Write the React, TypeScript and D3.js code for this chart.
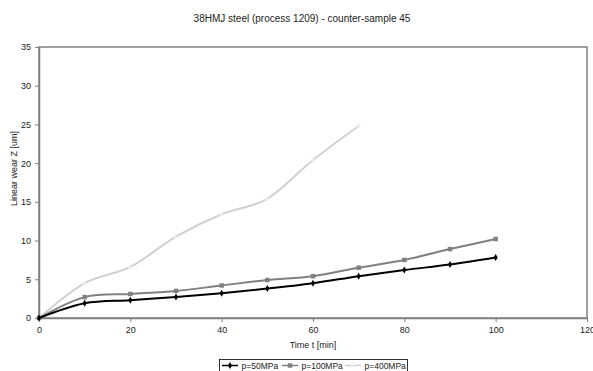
import React, { useEffect, useRef } from "react";
import * as d3 from "d3";

const times = [0, 10, 20, 30, 40, 50, 60, 70, 80, 90, 100];
const wear50 = [0, 1.9, 2.3, 2.7, 3.2, 3.8, 4.5, 5.4, 6.2, 6.9, 7.8];
const wear100 = [0, 2.7, 3.1, 3.5, 4.2, 4.9, 5.4, 6.5, 7.5, 8.9, 10.2];
const wear400 = [0, 4.5, 6.6, 10.5, 13.4, 15.4, 20.4, 24.8];
const xTicks = [0, 20, 40, 60, 80, 100, 120];
const yTicks = [0, 5, 10, 15, 20, 25, 30, 35];
const seriesNames = ["p=50MPa", "p=100MPa", "p=400MPa"];

const FONT = "'Liberation Sans',Arial,sans-serif";

export default function App() {
  const svgRef = useRef<SVGSVGElement>(null);

  useEffect(() => {
    const width = 593;
    const height = 371;
    const marginLeft = 39;
    const marginRight = 6;
    const marginTop = 47;
    const bottom = 318;

    const svg = d3.select(svgRef.current);
    svg.selectAll("*").remove();
    svg
      .attr("width", width)
      .attr("height", height)
      .attr("viewBox", [0, 0, width, height])
      .attr("style", `position:absolute;left:0;top:0;font-family:${FONT};`);

    const x = d3.scaleLinear().domain([0, 120]).range([marginLeft, width - marginRight]);
    const y = d3.scaleLinear().domain([0, 35]).range([bottom, marginTop]);

    // title
    svg
      .append("text")
      .attr("x", 302)
      .attr("y", 22)
      .attr("text-anchor", "middle")
      .attr("font-size", 10)
      .attr("fill", "#222")
      .text("38HMJ steel (process 1209) - counter-sample 45");

    // plot frame
    svg
      .append("rect")
      .attr("x", x(0))
      .attr("y", y(35))
      .attr("width", x(120) - x(0))
      .attr("height", y(0) - y(35))
      .attr("fill", "white")
      .attr("stroke", "#808080")
      .attr("stroke-width", 1.5);

    const styleAxis = (g) => {
      g.select(".domain").attr("stroke", "#808080").attr("stroke-width", 1.5);
      g.selectAll(".tick line").attr("stroke", "#808080");
      g.selectAll(".tick text").attr("font-size", 9).attr("fill", "#222").attr("font-family", FONT);
    };

    // y axis
    svg
      .append("g")
      .attr("transform", `translate(${x(0)},0)`)
      .call(d3.axisLeft(y).tickValues(yTicks).tickSize(4).tickPadding(4).tickSizeOuter(0))
      .call(styleAxis);

    // x axis
    svg
      .append("g")
      .attr("transform", `translate(0,${y(0)})`)
      .call(d3.axisBottom(x).tickValues(xTicks).tickSize(4).tickPadding(5).tickSizeOuter(0))
      .call(styleAxis);

    svg
      .append("text")
      .attr("x", 313)
      .attr("y", 348)
      .attr("text-anchor", "middle")
      .attr("font-size", 9)
      .attr("fill", "#222")
      .text("Time t [min]");

    svg
      .append("text")
      .attr("transform", `translate(17,${(y(0) + y(35)) / 2 - 14}) rotate(-90)`)
      .attr("text-anchor", "middle")
      .attr("font-size", 9)
      .attr("fill", "#222")
      .text("Linear wear Z  [um]");

    const series = [
      { name: seriesNames[0], values: wear50, color: "#000000", markerFill: "#000000", marker: d3.symbolDiamond, size: 14 },
      { name: seriesNames[1], values: wear100, color: "#808080", markerFill: "#808080", marker: d3.symbolSquare, size: 20 },
      { name: seriesNames[2], values: wear400, color: "#d0d0d0", markerFill: "#ebebeb", marker: d3.symbolTriangle, size: 12 },
    ];

    const line = d3
      .line<number>()
      .x((d, i) => x(times[i]))
      .y((d) => y(d))
      .curve(d3.curveCardinal.tension(0));

    series
      .slice()
      .reverse()
      .forEach((s) => {
        svg
          .append("path")
          .datum(s.values)
          .attr("fill", "none")
          .attr("stroke", s.color)
          .attr("stroke-width", 2)
          .attr("d", line);
        svg
          .append("g")
          .selectAll("path")
          .data(s.values)
          .join("path")
          .attr("transform", (d, i) => `translate(${x(times[i])},${y(d)})`)
          .attr("d", d3.symbol().type(s.marker).size(s.size)())
          .attr("fill", s.markerFill);
      });

    // legend
    const legend = svg.append("g");
    legend
      .append("rect")
      .attr("x", 219.5)
      .attr("y", 359.5)
      .attr("width", 188)
      .attr("height", 16)
      .attr("fill", "white")
      .attr("stroke", "#000")
      .attr("stroke-width", 0.8);
    const legendX = [222, 282, 345];
    series.forEach((s, i) => {
      const lx = legendX[i];
      const ly = 365.5;
      legend
        .append("line")
        .attr("x1", lx)
        .attr("x2", lx + 16)
        .attr("y1", ly)
        .attr("y2", ly)
        .attr("stroke", s.color)
        .attr("stroke-width", 1.5);
      legend
        .append("path")
        .attr("transform", `translate(${lx + 8},${ly})`)
        .attr("d", d3.symbol().type(s.marker).size(s.size)())
        .attr("fill", s.markerFill);
      legend
        .append("text")
        .attr("x", lx + 19.5)
        .attr("y", ly + 3)
        .attr("font-size", 8.5)
        .attr("fill", "#222")
        .text(s.name);
    });
  }, []);

  return <svg ref={svgRef}></svg>;
}
